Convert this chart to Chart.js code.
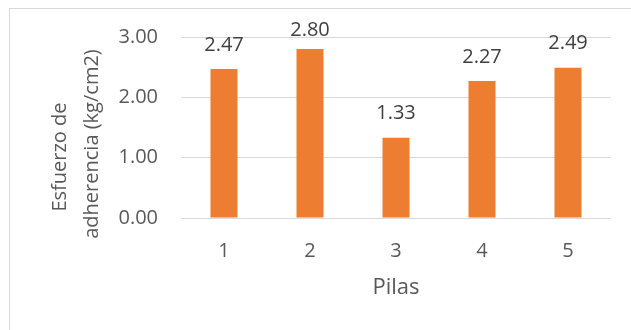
<!DOCTYPE html>
<html>
<head>
<meta charset="utf-8">
<script src="https://cdn.jsdelivr.net/npm/chart.js@4/dist/chart.umd.min.js"></script>
<style>
html,body{margin:0;padding:0;background:#fff;}
canvas{display:block;}
</style>
</head>
<body>
<canvas id="c" width="631" height="330"></canvas>
<script>
const categories = ['1', '2', '3', '4', '5'];
const values = [2.47, 2.80, 1.33, 2.27, 2.49];
const yTicks = [0, 1, 2, 3];
const xTitle = 'Pilas';
const yTitle = ['Esfuerzo de', 'adherencia (kg/cm2)'];

const FONT = "'Open Sans', sans-serif";

const framePlugin = {
  id: 'frame',
  beforeDraw(chart) {
    const ctx = chart.ctx;
    ctx.save();
    ctx.fillStyle = '#ffffff';
    ctx.fillRect(0, 0, chart.width, chart.height);
    ctx.strokeStyle = '#d9d9d9';
    ctx.lineWidth = 1;
    ctx.strokeRect(9.5, 8.5, 800, 500);
    ctx.restore();
  }
};

// y-axis title: two rotated lines, each placed like the original's
const yTitlePlugin = {
  id: 'yTitle',
  afterDraw(chart) {
    const ctx = chart.ctx;
    const mid = (chart.chartArea.top + chart.chartArea.bottom) / 2;
    const spots = [{ x: 60.5, dy: 29.5 }, { x: 92.5, dy: 16.5 }];
    ctx.save();
    ctx.font = '20px ' + FONT;
    ctx.fillStyle = '#595959';
    ctx.textAlign = 'center';
    ctx.textBaseline = 'middle';
    yTitle.forEach((line, i) => {
      ctx.save();
      ctx.translate(spots[i].x, mid + spots[i].dy);
      ctx.rotate(-Math.PI / 2);
      ctx.fillText(line, 0, 0);
      ctx.restore();
    });
    ctx.restore();
  }
};

const labelPlugin = {
  id: 'valueLabels',
  afterDatasetsDraw(chart) {
    const ctx = chart.ctx;
    const meta = chart.getDatasetMeta(0);
    const size = 20;
    ctx.save();
    ctx.font = size + 'px ' + FONT;
    ctx.fillStyle = '#404040';
    ctx.textAlign = 'center';
    ctx.textBaseline = 'alphabetic';
    meta.data.forEach((bar, i) => {
      const v = chart.data.datasets[0].data[i];
      const center = Math.max(bar.y - 25.5, 28.5);
      ctx.fillText(v.toFixed(2), bar.x, center + 0.357 * size);
    });
    ctx.restore();
  }
};

new Chart(document.getElementById('c'), {
  type: 'bar',
  data: {
    labels: categories,
    datasets: [{
      data: values,
      backgroundColor: '#ED7D31',
      borderWidth: 0,
      barPercentage: 0.314,
      categoryPercentage: 1.0
    }]
  },
  options: {
    responsive: false,
    animation: false,
    devicePixelRatio: 1,
    layout: { padding: { top: 37, right: 20, left: 0, bottom: 0 } },
    plugins: {
      legend: { display: false },
      tooltip: { enabled: false }
    },
    scales: {
      x: {
        grid: { display: false },
        border: { display: false },
        ticks: { font: { family: FONT, size: 20 }, color: '#595959', padding: 13 },
        title: {
          display: true,
          text: xTitle,
          font: { family: FONT, size: 22, lineHeight: 1.2 },
          color: '#595959',
          padding: { top: 0, bottom: 29 }
        },
        afterFit(scale) { scale.height = 112; }
      },
      y: {
        min: 0,
        max: 3,
        afterBuildTicks(scale) { scale.ticks = yTicks.map(v => ({ value: v })); },
        grid: { color: '#d9d9d9', lineWidth: 1, drawTicks: false },
        border: { display: false },
        ticks: {
          font: { family: FONT, size: 20 },
          color: '#595959',
          padding: 23,
          callback: v => Number(v).toFixed(2)
        },
        title: { display: false },
        afterFit(scale) { scale.width = 181; }
      }
    }
  },
  plugins: [framePlugin, labelPlugin, yTitlePlugin]
});
</script>
</body>
</html>
